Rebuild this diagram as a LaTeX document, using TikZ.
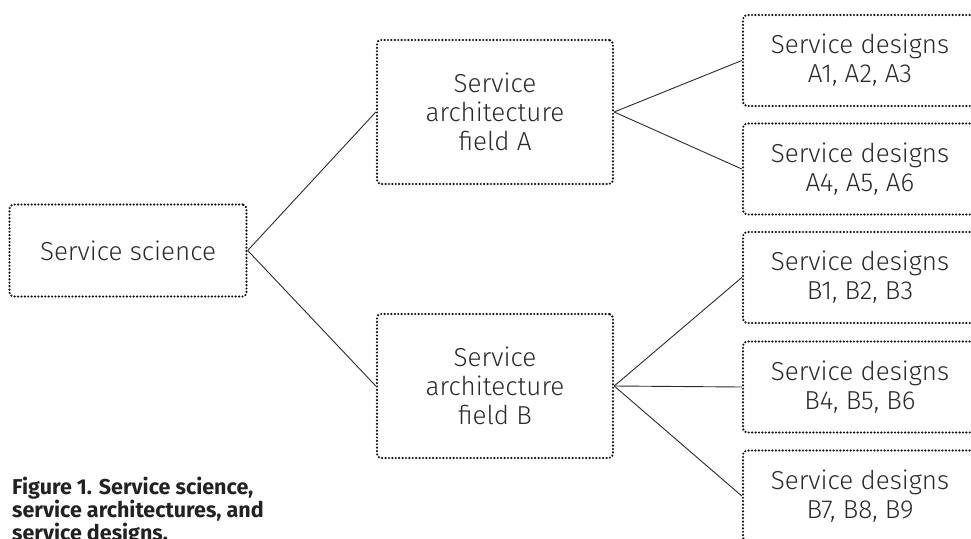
\documentclass[tikz,border=0pt]{standalone}
\usepackage{fontspec}
\IfFontExistsTF{Fira Sans Light}{\setmainfont{Fira Sans Light}[BoldFont={Fira Sans Bold}]}{\setmainfont{Fira Sans}}
\definecolor{ink}{HTML}{2B2B2B}
\definecolor{dotink}{HTML}{111111}
\definecolor{capink}{HTML}{222222}
\tikzset{
  dotbox/.style={draw=dotink, line width=2.4pt, dash pattern=on 0pt off 3.4pt, line cap=round,
    rounded corners=4pt, align=center, text=ink, inner sep=0pt,
    font=\fontsize{26}{29}\selectfont},
  scibox/.style={dotbox, minimum width=237pt, minimum height=92pt},
  archbox/.style={dotbox, minimum width=236pt, minimum height=144pt},
  desbox/.style={dotbox, minimum width=234pt, minimum height=91pt},
  conn/.style={draw=ink, line width=0.9pt},
}
\begin{document}
\begin{tikzpicture}[x=1pt, y=-1pt]
\useasboundingbox (0,0) rectangle (971,538);
\clip (0,0) rectangle (971,538);
\node[scibox] (sci) at (128,250.5) {Service science};
\node[archbox] (fa) at (495,112) {Service\\architecture\\field A};
\node[archbox] (fb) at (495,386) {Service\\architecture\\field B};
\node[desbox] (a1) at (860,60.5) {Service designs\\A1, A2, A3};
\node[desbox] (a4) at (860,169) {Service designs\\A4, A5, A6};
\node[desbox] (b1) at (860,277.5) {Service designs\\B1, B2, B3};
\node[desbox] (b4) at (860,387) {Service designs\\B4, B5, B6};
\node[desbox] (b7) at (860,496) {Service designs\\B7, B8, B9};
\draw[conn] (sci.east) -- (fa.west);
\draw[conn] (sci.east) -- (fb.west);
\draw[conn] (fa.east) -- (a1.west);
\draw[conn] (fa.east) -- (a4.west);
\draw[conn] (fb.east) -- (b1.west);
\draw[conn] (fb.east) -- (b4.west);
\draw[conn] (fb.east) -- (b7.west);
\node[anchor=north west, align=left, inner sep=0pt, text=capink,
  font=\fontsize{21.5}{23}\selectfont\bfseries] (cap) at (12,476.5)
  {Figure 1. Service science,\\service architectures, and\\service designs.};
\end{tikzpicture}
\end{document}
